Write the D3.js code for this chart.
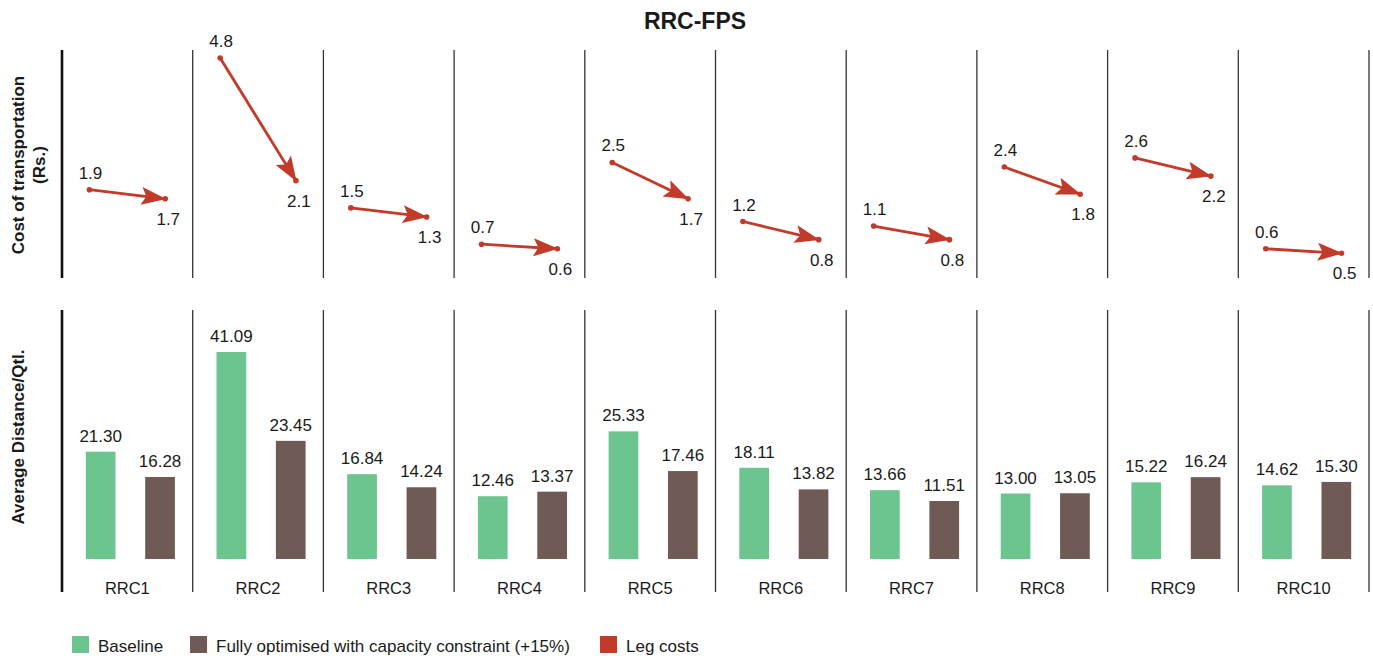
<!DOCTYPE html>
<html>
<head>
<meta charset="utf-8">
<script src="https://cdn.jsdelivr.net/npm/d3@7"></script>
<style>
  body { margin: 0; background: #fff; }
  text { font-family: "Helvetica Neue", Helvetica, Arial, "Liberation Sans", sans-serif; fill: #1a1a1a; }
</style>
</head>
<body>
<div id="chart"></div>
<script>
// data
const categories = ["RRC1", "RRC2", "RRC3", "RRC4", "RRC5", "RRC6", "RRC7", "RRC8", "RRC9", "RRC10"]
const costBaseline  = [1.9, 4.8, 1.5, 0.7, 2.5, 1.2, 1.1, 2.4, 2.6, 0.6]
const costOptimised = [1.7, 2.1, 1.3, 0.6, 1.7, 0.8, 0.8, 1.8, 2.2, 0.5]
const distBaseline  = [21.30, 41.09, 16.84, 12.46, 25.33, 18.11, 13.66, 13.00, 15.22, 14.62]
const distOptimised = [16.28, 23.45, 14.24, 13.37, 17.46, 13.82, 11.51, 13.05, 16.24, 15.30]
const stages = ["Baseline", "Optimised"]
const legendLabels = ["Baseline", "Fully optimised with capacity constraint (+15%)", "Leg costs"]

const colors = {Baseline: "#6cc48f", Optimised: "#705a55", leg: "#c23a2a"}

const W = 1373, H = 656
const svg = d3.select("#chart").append("svg")
    .attr("width", W).attr("height", H)

const x = d3.scaleBand().domain(categories).range([62, 1369])
const colW = x.bandwidth()

// inner scales inside each column
const xBar = d3.scaleBand().domain(stages).range([6, colW]).paddingInner(0.5).paddingOuter(0.3)
const xPt = d3.scalePoint().domain(stages).range([colW * 0.21, colW * 0.79])

const yCost = d3.scaleLinear().domain([0, 4.8]).range([276, 58])
const yDist = d3.scaleLinear().domain([0, 41.09]).range([559, 352])

const fmt1 = d3.format(".1f"), fmt2 = d3.format(".2f")
const fs = "17px"

// title
svg.append("text")
    .attr("x", 695).attr("y", 29)
    .attr("text-anchor", "middle")
    .style("font-size", "23px").style("font-weight", "bold")
    .text("RRC-FPS")

// y titles
const yt1 = svg.append("text")
    .attr("transform", "translate(24,165) rotate(-90)")
    .attr("text-anchor", "middle")
    .style("font-size", "17px").style("font-weight", "bold")
yt1.append("tspan").attr("x", 0).attr("y", 0).text("Cost of transportation")
yt1.append("tspan").attr("x", 0).attr("y", 21).text("(Rs.)")

svg.append("text")
    .attr("transform", "translate(24,437) rotate(-90)")
    .attr("text-anchor", "middle")
    .style("font-size", "17px").style("font-weight", "bold")
    .text("Average Distance/Qtl.")

// panel frames
const panels = [[50, 278], [310, 592]]
panels.forEach(function(p) {
    svg.append("line")
        .attr("x1", 62).attr("x2", 62).attr("y1", p[0]).attr("y2", p[1])
        .attr("stroke", "#111").attr("stroke-width", 2.6)
    svg.selectAll(null).data(categories).enter().append("line")
        .attr("x1", d => x(d) + colW).attr("x2", d => x(d) + colW)
        .attr("y1", p[0]).attr("y2", p[1])
        .attr("stroke", "#333").attr("stroke-width", 1.3)
})

// arrow head
svg.append("defs").append("marker")
    .attr("id", "head")
    .attr("viewBox", "0 -10 25 20")
    .attr("refX", 24).attr("refY", 0)
    .attr("markerWidth", 25).attr("markerHeight", 20)
    .attr("markerUnits", "userSpaceOnUse")
    .attr("orient", "auto")
    .append("path")
    .attr("d", "M0,-9L25,0L0,9L5,0Z")
    .attr("fill", colors.leg)

// top: leg costs
const legs = categories.map((c, i) => ({cat: c, a: costBaseline[i], b: costOptimised[i]}))
const gLeg = svg.selectAll("g.leg").data(legs).enter().append("g")
    .attr("class", "leg")
    .attr("transform", d => `translate(${x(d.cat)},0)`)

gLeg.append("line")
    .attr("x1", xPt("Baseline")).attr("y1", d => yCost(d.a))
    .attr("x2", xPt("Optimised")).attr("y2", d => yCost(d.b))
    .attr("stroke", colors.leg).attr("stroke-width", 2.8)
    .attr("marker-end", "url(#head)")

gLeg.append("circle")
    .attr("cx", xPt("Baseline")).attr("cy", d => yCost(d.a)).attr("r", 2.8)
    .attr("fill", colors.leg)
gLeg.append("circle")
    .attr("cx", xPt("Optimised")).attr("cy", d => yCost(d.b)).attr("r", 2.8)
    .attr("fill", colors.leg)

gLeg.append("text")
    .attr("x", xPt("Baseline") + 1).attr("y", d => yCost(d.a) - 11)
    .attr("text-anchor", "middle").style("font-size", fs)
    .text(d => fmt1(d.a))
gLeg.append("text")
    .attr("x", xPt("Optimised") + 3).attr("y", d => yCost(d.b) + 26)
    .attr("text-anchor", "middle").style("font-size", fs)
    .text(d => fmt1(d.b))

// bottom: distance bars
const bars = []
categories.forEach(function(c, i) {
    bars.push({cat: c, stage: "Baseline", v: distBaseline[i]})
    bars.push({cat: c, stage: "Optimised", v: distOptimised[i]})
})

svg.selectAll("rect.bar").data(bars).enter().append("rect")
    .attr("class", "bar")
    .attr("x", d => x(d.cat) + xBar(d.stage))
    .attr("y", d => yDist(d.v))
    .attr("width", xBar.bandwidth())
    .attr("height", d => yDist(0) - yDist(d.v))
    .attr("fill", d => colors[d.stage])

svg.selectAll("text.val").data(bars).enter().append("text")
    .attr("class", "val")
    .attr("x", d => x(d.cat) + xBar(d.stage) + xBar.bandwidth() / 2)
    .attr("y", d => yDist(d.v) - 10)
    .attr("text-anchor", "middle").style("font-size", fs)
    .text(d => fmt2(d.v))

svg.selectAll("text.cat").data(categories).enter().append("text")
    .attr("class", "cat")
    .attr("x", d => x(d) + colW / 2).attr("y", 594)
    .attr("text-anchor", "middle").style("font-size", "16.5px")
    .text(d => d)

// legend
const legendColors = [colors.Baseline, colors.Optimised, colors.leg]
const legendX = [72, 190, 600]
const gl = svg.selectAll("g.lg").data(legendLabels).enter().append("g")
    .attr("class", "lg")
    .attr("transform", (d, i) => `translate(${legendX[i]},636)`)
gl.append("rect").attr("width", 17).attr("height", 17)
    .attr("fill", (d, i) => legendColors[i])
gl.append("text").attr("x", 26).attr("y", 16)
    .style("font-size", fs)
    .text(d => d)
</script>
</body>
</html>
